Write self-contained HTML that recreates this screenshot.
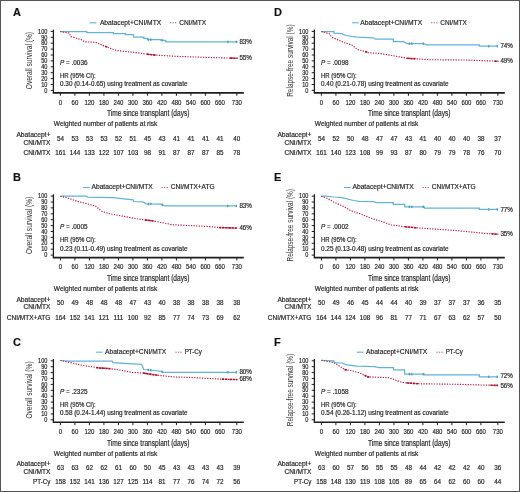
<!DOCTYPE html>
<html><head><meta charset="utf-8"><style>
html,body{margin:0;padding:0;background:#fff;width:520px;height:492px;overflow:hidden;}
svg{display:block;will-change:transform;font-family:"Liberation Sans", sans-serif;}
text{stroke:#2a2a2a;stroke-width:0.18px;}
</style></head><body>
<svg width="520" height="492" viewBox="0 0 520 492" font-family='"Liberation Sans", sans-serif'>
<rect x="0" y="0" width="520" height="492" fill="#fff"/>
<g transform="translate(0,0)">
<text x="13.00" y="16.20" font-size="11" font-weight="bold" fill="#111">A</text>
<line x1="89.6" y1="22.8" x2="96.39999999999999" y2="22.8" stroke="#64b2d6" stroke-width="1.1"/>
<text x="99.90" y="24.50" font-size="6.5" textLength="61.3" lengthAdjust="spacingAndGlyphs" fill="#222">Abatacept+CNI/MTX</text>
<line x1="170.0" y1="22.8" x2="176.8" y2="22.8" stroke="#b8203e" stroke-width="1.0" stroke-opacity="0.75" stroke-dasharray="1.3 1.2"/>
<text x="179.20" y="24.50" font-size="6.5" textLength="27.0" lengthAdjust="spacingAndGlyphs" fill="#222">CNI/MTX</text>
<line x1="53.4" y1="29.6" x2="53.4" y2="93.0" stroke="#1e1e1e" stroke-width="1.3"/>
<line x1="50.7" y1="90.40" x2="53.4" y2="90.40" stroke="#1e1e1e" stroke-width="1"/>
<text x="47.40" y="92.60" font-size="6.4" text-anchor="end" textLength="3.1" lengthAdjust="spacingAndGlyphs" fill="#222">0</text>
<line x1="50.7" y1="84.50" x2="53.4" y2="84.50" stroke="#1e1e1e" stroke-width="1"/>
<text x="47.40" y="86.70" font-size="6.4" text-anchor="end" textLength="6.2" lengthAdjust="spacingAndGlyphs" fill="#222">10</text>
<line x1="50.7" y1="78.60" x2="53.4" y2="78.60" stroke="#1e1e1e" stroke-width="1"/>
<text x="47.40" y="80.80" font-size="6.4" text-anchor="end" textLength="6.2" lengthAdjust="spacingAndGlyphs" fill="#222">20</text>
<line x1="50.7" y1="72.70" x2="53.4" y2="72.70" stroke="#1e1e1e" stroke-width="1"/>
<text x="47.40" y="74.90" font-size="6.4" text-anchor="end" textLength="6.2" lengthAdjust="spacingAndGlyphs" fill="#222">30</text>
<line x1="50.7" y1="66.80" x2="53.4" y2="66.80" stroke="#1e1e1e" stroke-width="1"/>
<text x="47.40" y="69.00" font-size="6.4" text-anchor="end" textLength="6.2" lengthAdjust="spacingAndGlyphs" fill="#222">40</text>
<line x1="50.7" y1="60.90" x2="53.4" y2="60.90" stroke="#1e1e1e" stroke-width="1"/>
<text x="47.40" y="63.10" font-size="6.4" text-anchor="end" textLength="6.2" lengthAdjust="spacingAndGlyphs" fill="#222">50</text>
<line x1="50.7" y1="55.00" x2="53.4" y2="55.00" stroke="#1e1e1e" stroke-width="1"/>
<text x="47.40" y="57.20" font-size="6.4" text-anchor="end" textLength="6.2" lengthAdjust="spacingAndGlyphs" fill="#222">60</text>
<line x1="50.7" y1="49.10" x2="53.4" y2="49.10" stroke="#1e1e1e" stroke-width="1"/>
<text x="47.40" y="51.30" font-size="6.4" text-anchor="end" textLength="6.2" lengthAdjust="spacingAndGlyphs" fill="#222">70</text>
<line x1="50.7" y1="43.20" x2="53.4" y2="43.20" stroke="#1e1e1e" stroke-width="1"/>
<text x="47.40" y="45.40" font-size="6.4" text-anchor="end" textLength="6.2" lengthAdjust="spacingAndGlyphs" fill="#222">80</text>
<line x1="50.7" y1="37.30" x2="53.4" y2="37.30" stroke="#1e1e1e" stroke-width="1"/>
<text x="47.40" y="39.50" font-size="6.4" text-anchor="end" textLength="6.2" lengthAdjust="spacingAndGlyphs" fill="#222">90</text>
<line x1="50.7" y1="31.40" x2="53.4" y2="31.40" stroke="#1e1e1e" stroke-width="1"/>
<text x="47.40" y="33.60" font-size="6.4" text-anchor="end" textLength="9.3" lengthAdjust="spacingAndGlyphs" fill="#222">100</text>
<line x1="52.8" y1="92.9" x2="243.8" y2="92.9" stroke="#1e1e1e" stroke-width="1.6"/>
<line x1="60.40" y1="92.9" x2="60.40" y2="95.8" stroke="#1e1e1e" stroke-width="1"/>
<text x="60.40" y="104.50" font-size="7.0" text-anchor="middle" textLength="3.35" lengthAdjust="spacingAndGlyphs" fill="#222">0</text>
<line x1="74.90" y1="92.9" x2="74.90" y2="95.8" stroke="#1e1e1e" stroke-width="1"/>
<text x="74.90" y="104.50" font-size="7.0" text-anchor="middle" textLength="6.7" lengthAdjust="spacingAndGlyphs" fill="#222">60</text>
<line x1="89.40" y1="92.9" x2="89.40" y2="95.8" stroke="#1e1e1e" stroke-width="1"/>
<text x="89.40" y="104.50" font-size="7.0" text-anchor="middle" textLength="10.05" lengthAdjust="spacingAndGlyphs" fill="#222">120</text>
<line x1="103.91" y1="92.9" x2="103.91" y2="95.8" stroke="#1e1e1e" stroke-width="1"/>
<text x="103.91" y="104.50" font-size="7.0" text-anchor="middle" textLength="10.05" lengthAdjust="spacingAndGlyphs" fill="#222">180</text>
<line x1="118.41" y1="92.9" x2="118.41" y2="95.8" stroke="#1e1e1e" stroke-width="1"/>
<text x="118.41" y="104.50" font-size="7.0" text-anchor="middle" textLength="10.05" lengthAdjust="spacingAndGlyphs" fill="#222">240</text>
<line x1="132.91" y1="92.9" x2="132.91" y2="95.8" stroke="#1e1e1e" stroke-width="1"/>
<text x="132.91" y="104.50" font-size="7.0" text-anchor="middle" textLength="10.05" lengthAdjust="spacingAndGlyphs" fill="#222">300</text>
<line x1="147.41" y1="92.9" x2="147.41" y2="95.8" stroke="#1e1e1e" stroke-width="1"/>
<text x="147.41" y="104.50" font-size="7.0" text-anchor="middle" textLength="10.05" lengthAdjust="spacingAndGlyphs" fill="#222">360</text>
<line x1="161.91" y1="92.9" x2="161.91" y2="95.8" stroke="#1e1e1e" stroke-width="1"/>
<text x="161.91" y="104.50" font-size="7.0" text-anchor="middle" textLength="10.05" lengthAdjust="spacingAndGlyphs" fill="#222">420</text>
<line x1="176.42" y1="92.9" x2="176.42" y2="95.8" stroke="#1e1e1e" stroke-width="1"/>
<text x="176.42" y="104.50" font-size="7.0" text-anchor="middle" textLength="10.05" lengthAdjust="spacingAndGlyphs" fill="#222">480</text>
<line x1="190.92" y1="92.9" x2="190.92" y2="95.8" stroke="#1e1e1e" stroke-width="1"/>
<text x="190.92" y="104.50" font-size="7.0" text-anchor="middle" textLength="10.05" lengthAdjust="spacingAndGlyphs" fill="#222">540</text>
<line x1="205.42" y1="92.9" x2="205.42" y2="95.8" stroke="#1e1e1e" stroke-width="1"/>
<text x="205.42" y="104.50" font-size="7.0" text-anchor="middle" textLength="10.05" lengthAdjust="spacingAndGlyphs" fill="#222">600</text>
<line x1="219.92" y1="92.9" x2="219.92" y2="95.8" stroke="#1e1e1e" stroke-width="1"/>
<text x="219.92" y="104.50" font-size="7.0" text-anchor="middle" textLength="10.05" lengthAdjust="spacingAndGlyphs" fill="#222">660</text>
<line x1="236.84" y1="92.9" x2="236.84" y2="95.8" stroke="#1e1e1e" stroke-width="1"/>
<text x="236.84" y="104.50" font-size="7.0" text-anchor="middle" textLength="10.05" lengthAdjust="spacingAndGlyphs" fill="#222">730</text>
<text x="106.90" y="116.20" font-size="8.5" textLength="82.6" lengthAdjust="spacingAndGlyphs" fill="#222">Time since transplant (days)</text>
<text x="0" y="0" font-size="9" textLength="57.2" lengthAdjust="spacingAndGlyphs" text-anchor="middle" fill="#333" style="stroke:none" transform="translate(31.9,60.6) rotate(-90)">Overall survival (%)</text>
<text x="60.0" y="64.8" font-size="6.3" fill="#222" textLength="27.5" lengthAdjust="spacingAndGlyphs"><tspan font-style="italic">P</tspan> = .0036</text>
<text x="60.00" y="77.60" font-size="6.3" textLength="35.6" lengthAdjust="spacingAndGlyphs" fill="#222">HR (95% CI):</text>
<text x="60.00" y="86.00" font-size="6.3" textLength="127.5" lengthAdjust="spacingAndGlyphs" fill="#222">0.30 (0.14-0.65) using treatment as covariate</text>
<polyline points="60.3,31.5 86.8,31.5 86.8,32.6 113.4,32.6 113.4,33.6 125.4,33.6 125.4,34.7 133.5,34.7 133.5,37.2 143.8,37.2 143.8,38.4 147.3,38.4 147.3,39.6 161.0,39.6 161.0,40.3 165.7,40.3 165.7,41.8 237.7,41.8" fill="none" stroke="#64b2d6" stroke-width="1.25"/>
<polyline points="60.3,31.5 66.0,32.6 69.5,33.2 70.7,36.6 81.0,39.5 84.5,41.8 96.0,42.4 104.0,45.9 110.0,48.2 116.8,50.5 125.0,51.5 138.0,52.8 149.6,54.5 155.4,55.1 175.0,56.3 206.6,57.4 237.7,58.3" fill="none" stroke="#b8203e" stroke-width="1.15" stroke-dasharray="1.3 1.3"/>
<rect x="147.70" y="38.40" width="1.4" height="2.4" fill="#4f9fbd"/>
<rect x="150.10" y="38.40" width="1.4" height="2.4" fill="#4f9fbd"/>
<rect x="161.60" y="39.10" width="1.4" height="2.4" fill="#4f9fbd"/>
<rect x="227.10" y="40.60" width="1.4" height="2.4" fill="#4f9fbd"/>
<rect x="235.60" y="40.60" width="1.4" height="2.4" fill="#4f9fbd"/>
<polyline points="105.0,46.3 107.5,47.2" fill="none" stroke="#b0122f" stroke-width="1.6" stroke-dasharray="2.4 0.7"/>
<polyline points="147.0,54.1 149.6,54.5 155.4,55.1 156.0,55.1" fill="none" stroke="#b0122f" stroke-width="1.6" stroke-dasharray="2.4 0.7"/>
<polyline points="230.0,58.1 237.5,58.3" fill="none" stroke="#b0122f" stroke-width="1.6" stroke-dasharray="2.4 0.7"/>
<text x="239.40" y="43.70" font-size="6.3" textLength="12.5" lengthAdjust="spacingAndGlyphs" fill="#222">83%</text>
<text x="239.40" y="60.00" font-size="6.3" textLength="12.5" lengthAdjust="spacingAndGlyphs" fill="#222">55%</text>
<text x="53.80" y="126.20" font-size="6.5" textLength="103.5" lengthAdjust="spacingAndGlyphs" fill="#222">Weighted number of patients at risk</text>
<text x="50.40" y="137.00" font-size="6.3" text-anchor="end" textLength="34.0" lengthAdjust="spacingAndGlyphs" fill="#222">Abatacept+</text>
<text x="50.40" y="144.60" font-size="6.3" text-anchor="end" textLength="27.0" lengthAdjust="spacingAndGlyphs" fill="#222">CNI/MTX</text>
<text x="60.40" y="140.70" font-size="6.3" text-anchor="middle" fill="#222">54</text>
<text x="74.90" y="140.70" font-size="6.3" text-anchor="middle" fill="#222">53</text>
<text x="89.40" y="140.70" font-size="6.3" text-anchor="middle" fill="#222">53</text>
<text x="103.91" y="140.70" font-size="6.3" text-anchor="middle" fill="#222">53</text>
<text x="118.41" y="140.70" font-size="6.3" text-anchor="middle" fill="#222">52</text>
<text x="132.91" y="140.70" font-size="6.3" text-anchor="middle" fill="#222">51</text>
<text x="147.41" y="140.70" font-size="6.3" text-anchor="middle" fill="#222">45</text>
<text x="161.91" y="140.70" font-size="6.3" text-anchor="middle" fill="#222">43</text>
<text x="176.42" y="140.70" font-size="6.3" text-anchor="middle" fill="#222">41</text>
<text x="190.92" y="140.70" font-size="6.3" text-anchor="middle" fill="#222">41</text>
<text x="205.42" y="140.70" font-size="6.3" text-anchor="middle" fill="#222">41</text>
<text x="219.92" y="140.70" font-size="6.3" text-anchor="middle" fill="#222">41</text>
<text x="236.84" y="140.70" font-size="6.3" text-anchor="middle" fill="#222">40</text>
<text x="50.40" y="155.00" font-size="6.3" text-anchor="end" textLength="27" lengthAdjust="spacingAndGlyphs" fill="#222">CNI/MTX</text>
<text x="60.40" y="155.00" font-size="6.3" text-anchor="middle" fill="#222">161</text>
<text x="74.90" y="155.00" font-size="6.3" text-anchor="middle" fill="#222">144</text>
<text x="89.40" y="155.00" font-size="6.3" text-anchor="middle" fill="#222">133</text>
<text x="103.91" y="155.00" font-size="6.3" text-anchor="middle" fill="#222">122</text>
<text x="118.41" y="155.00" font-size="6.3" text-anchor="middle" fill="#222">107</text>
<text x="132.91" y="155.00" font-size="6.3" text-anchor="middle" fill="#222">103</text>
<text x="147.41" y="155.00" font-size="6.3" text-anchor="middle" fill="#222">98</text>
<text x="161.91" y="155.00" font-size="6.3" text-anchor="middle" fill="#222">91</text>
<text x="176.42" y="155.00" font-size="6.3" text-anchor="middle" fill="#222">87</text>
<text x="190.92" y="155.00" font-size="6.3" text-anchor="middle" fill="#222">87</text>
<text x="205.42" y="155.00" font-size="6.3" text-anchor="middle" fill="#222">87</text>
<text x="219.92" y="155.00" font-size="6.3" text-anchor="middle" fill="#222">85</text>
<text x="236.84" y="155.00" font-size="6.3" text-anchor="middle" fill="#222">78</text>
</g>
<g transform="translate(0,164.7)">
<text x="13.00" y="16.20" font-size="11" font-weight="bold" fill="#111">B</text>
<line x1="83.0" y1="22.8" x2="89.8" y2="22.8" stroke="#64b2d6" stroke-width="1.1"/>
<text x="91.50" y="24.50" font-size="6.5" textLength="61.3" lengthAdjust="spacingAndGlyphs" fill="#222">Abatacept+CNI/MTX</text>
<line x1="161.5" y1="22.8" x2="168.3" y2="22.8" stroke="#b8203e" stroke-width="1.0" stroke-opacity="0.75" stroke-dasharray="1.3 1.2"/>
<text x="170.80" y="24.50" font-size="6.5" textLength="43.8" lengthAdjust="spacingAndGlyphs" fill="#222">CNI/MTX+ATG</text>
<line x1="53.4" y1="29.6" x2="53.4" y2="93.0" stroke="#1e1e1e" stroke-width="1.3"/>
<line x1="50.7" y1="90.40" x2="53.4" y2="90.40" stroke="#1e1e1e" stroke-width="1"/>
<text x="47.40" y="92.60" font-size="6.4" text-anchor="end" textLength="3.1" lengthAdjust="spacingAndGlyphs" fill="#222">0</text>
<line x1="50.7" y1="84.50" x2="53.4" y2="84.50" stroke="#1e1e1e" stroke-width="1"/>
<text x="47.40" y="86.70" font-size="6.4" text-anchor="end" textLength="6.2" lengthAdjust="spacingAndGlyphs" fill="#222">10</text>
<line x1="50.7" y1="78.60" x2="53.4" y2="78.60" stroke="#1e1e1e" stroke-width="1"/>
<text x="47.40" y="80.80" font-size="6.4" text-anchor="end" textLength="6.2" lengthAdjust="spacingAndGlyphs" fill="#222">20</text>
<line x1="50.7" y1="72.70" x2="53.4" y2="72.70" stroke="#1e1e1e" stroke-width="1"/>
<text x="47.40" y="74.90" font-size="6.4" text-anchor="end" textLength="6.2" lengthAdjust="spacingAndGlyphs" fill="#222">30</text>
<line x1="50.7" y1="66.80" x2="53.4" y2="66.80" stroke="#1e1e1e" stroke-width="1"/>
<text x="47.40" y="69.00" font-size="6.4" text-anchor="end" textLength="6.2" lengthAdjust="spacingAndGlyphs" fill="#222">40</text>
<line x1="50.7" y1="60.90" x2="53.4" y2="60.90" stroke="#1e1e1e" stroke-width="1"/>
<text x="47.40" y="63.10" font-size="6.4" text-anchor="end" textLength="6.2" lengthAdjust="spacingAndGlyphs" fill="#222">50</text>
<line x1="50.7" y1="55.00" x2="53.4" y2="55.00" stroke="#1e1e1e" stroke-width="1"/>
<text x="47.40" y="57.20" font-size="6.4" text-anchor="end" textLength="6.2" lengthAdjust="spacingAndGlyphs" fill="#222">60</text>
<line x1="50.7" y1="49.10" x2="53.4" y2="49.10" stroke="#1e1e1e" stroke-width="1"/>
<text x="47.40" y="51.30" font-size="6.4" text-anchor="end" textLength="6.2" lengthAdjust="spacingAndGlyphs" fill="#222">70</text>
<line x1="50.7" y1="43.20" x2="53.4" y2="43.20" stroke="#1e1e1e" stroke-width="1"/>
<text x="47.40" y="45.40" font-size="6.4" text-anchor="end" textLength="6.2" lengthAdjust="spacingAndGlyphs" fill="#222">80</text>
<line x1="50.7" y1="37.30" x2="53.4" y2="37.30" stroke="#1e1e1e" stroke-width="1"/>
<text x="47.40" y="39.50" font-size="6.4" text-anchor="end" textLength="6.2" lengthAdjust="spacingAndGlyphs" fill="#222">90</text>
<line x1="50.7" y1="31.40" x2="53.4" y2="31.40" stroke="#1e1e1e" stroke-width="1"/>
<text x="47.40" y="33.60" font-size="6.4" text-anchor="end" textLength="9.3" lengthAdjust="spacingAndGlyphs" fill="#222">100</text>
<line x1="52.8" y1="92.9" x2="243.8" y2="92.9" stroke="#1e1e1e" stroke-width="1.6"/>
<line x1="60.40" y1="92.9" x2="60.40" y2="95.8" stroke="#1e1e1e" stroke-width="1"/>
<text x="60.40" y="104.50" font-size="7.0" text-anchor="middle" textLength="3.35" lengthAdjust="spacingAndGlyphs" fill="#222">0</text>
<line x1="74.90" y1="92.9" x2="74.90" y2="95.8" stroke="#1e1e1e" stroke-width="1"/>
<text x="74.90" y="104.50" font-size="7.0" text-anchor="middle" textLength="6.7" lengthAdjust="spacingAndGlyphs" fill="#222">60</text>
<line x1="89.40" y1="92.9" x2="89.40" y2="95.8" stroke="#1e1e1e" stroke-width="1"/>
<text x="89.40" y="104.50" font-size="7.0" text-anchor="middle" textLength="10.05" lengthAdjust="spacingAndGlyphs" fill="#222">120</text>
<line x1="103.91" y1="92.9" x2="103.91" y2="95.8" stroke="#1e1e1e" stroke-width="1"/>
<text x="103.91" y="104.50" font-size="7.0" text-anchor="middle" textLength="10.05" lengthAdjust="spacingAndGlyphs" fill="#222">180</text>
<line x1="118.41" y1="92.9" x2="118.41" y2="95.8" stroke="#1e1e1e" stroke-width="1"/>
<text x="118.41" y="104.50" font-size="7.0" text-anchor="middle" textLength="10.05" lengthAdjust="spacingAndGlyphs" fill="#222">240</text>
<line x1="132.91" y1="92.9" x2="132.91" y2="95.8" stroke="#1e1e1e" stroke-width="1"/>
<text x="132.91" y="104.50" font-size="7.0" text-anchor="middle" textLength="10.05" lengthAdjust="spacingAndGlyphs" fill="#222">300</text>
<line x1="147.41" y1="92.9" x2="147.41" y2="95.8" stroke="#1e1e1e" stroke-width="1"/>
<text x="147.41" y="104.50" font-size="7.0" text-anchor="middle" textLength="10.05" lengthAdjust="spacingAndGlyphs" fill="#222">360</text>
<line x1="161.91" y1="92.9" x2="161.91" y2="95.8" stroke="#1e1e1e" stroke-width="1"/>
<text x="161.91" y="104.50" font-size="7.0" text-anchor="middle" textLength="10.05" lengthAdjust="spacingAndGlyphs" fill="#222">420</text>
<line x1="176.42" y1="92.9" x2="176.42" y2="95.8" stroke="#1e1e1e" stroke-width="1"/>
<text x="176.42" y="104.50" font-size="7.0" text-anchor="middle" textLength="10.05" lengthAdjust="spacingAndGlyphs" fill="#222">480</text>
<line x1="190.92" y1="92.9" x2="190.92" y2="95.8" stroke="#1e1e1e" stroke-width="1"/>
<text x="190.92" y="104.50" font-size="7.0" text-anchor="middle" textLength="10.05" lengthAdjust="spacingAndGlyphs" fill="#222">540</text>
<line x1="205.42" y1="92.9" x2="205.42" y2="95.8" stroke="#1e1e1e" stroke-width="1"/>
<text x="205.42" y="104.50" font-size="7.0" text-anchor="middle" textLength="10.05" lengthAdjust="spacingAndGlyphs" fill="#222">600</text>
<line x1="219.92" y1="92.9" x2="219.92" y2="95.8" stroke="#1e1e1e" stroke-width="1"/>
<text x="219.92" y="104.50" font-size="7.0" text-anchor="middle" textLength="10.05" lengthAdjust="spacingAndGlyphs" fill="#222">660</text>
<line x1="236.84" y1="92.9" x2="236.84" y2="95.8" stroke="#1e1e1e" stroke-width="1"/>
<text x="236.84" y="104.50" font-size="7.0" text-anchor="middle" textLength="10.05" lengthAdjust="spacingAndGlyphs" fill="#222">730</text>
<text x="106.90" y="116.20" font-size="8.5" textLength="82.6" lengthAdjust="spacingAndGlyphs" fill="#222">Time since transplant (days)</text>
<text x="0" y="0" font-size="9" textLength="57.2" lengthAdjust="spacingAndGlyphs" text-anchor="middle" fill="#333" style="stroke:none" transform="translate(31.9,60.6) rotate(-90)">Overall survival (%)</text>
<text x="60.0" y="64.8" font-size="6.3" fill="#222" textLength="27.5" lengthAdjust="spacingAndGlyphs"><tspan font-style="italic">P</tspan> = .0005</text>
<text x="60.00" y="77.60" font-size="6.3" textLength="35.6" lengthAdjust="spacingAndGlyphs" fill="#222">HR (95% CI):</text>
<text x="60.00" y="86.00" font-size="6.3" textLength="127.5" lengthAdjust="spacingAndGlyphs" fill="#222">0.23 (0.11-0.49) using treatment as covariate</text>
<polyline points="60.3,31.5 86.8,31.5 87.7,32.5 113.1,32.9 126.2,34.5 133.1,35.2 133.8,36.8 143.1,37.2 146.2,39.1 161.1,39.5 164.6,41.2 236.9,41.2" fill="none" stroke="#64b2d6" stroke-width="1.25"/>
<polyline points="60.3,31.5 68.4,33.5 76.5,36.4 88.0,39.3 95.4,41.4 101.8,46.5 108.7,48.8 118.0,50.6 126.2,52.1 138.0,54.3 144.6,55.2 154.2,56.4 160.0,57.5 172.0,60.0 211.8,62.0 220.4,62.9 237.7,63.4" fill="none" stroke="#b8203e" stroke-width="1.15" stroke-dasharray="1.3 1.3"/>
<rect x="147.70" y="37.96" width="1.4" height="2.4" fill="#4f9fbd"/>
<rect x="150.10" y="38.02" width="1.4" height="2.4" fill="#4f9fbd"/>
<rect x="161.60" y="38.88" width="1.4" height="2.4" fill="#4f9fbd"/>
<rect x="227.10" y="40.00" width="1.4" height="2.4" fill="#4f9fbd"/>
<rect x="235.60" y="40.00" width="1.4" height="2.4" fill="#4f9fbd"/>
<polyline points="145.0,55.2 154.2,56.4 154.5,56.5" fill="none" stroke="#b0122f" stroke-width="1.6" stroke-dasharray="2.4 0.7"/>
<polyline points="219.0,62.8 220.4,62.9 237.0,63.4" fill="none" stroke="#b0122f" stroke-width="1.6" stroke-dasharray="2.4 0.7"/>
<text x="239.40" y="43.10" font-size="6.3" textLength="12.5" lengthAdjust="spacingAndGlyphs" fill="#222">83%</text>
<text x="239.40" y="65.10" font-size="6.3" textLength="12.5" lengthAdjust="spacingAndGlyphs" fill="#222">46%</text>
<text x="53.80" y="126.20" font-size="6.5" textLength="103.5" lengthAdjust="spacingAndGlyphs" fill="#222">Weighted number of patients at risk</text>
<text x="50.40" y="137.00" font-size="6.3" text-anchor="end" textLength="34.0" lengthAdjust="spacingAndGlyphs" fill="#222">Abatacept+</text>
<text x="50.40" y="144.60" font-size="6.3" text-anchor="end" textLength="27.0" lengthAdjust="spacingAndGlyphs" fill="#222">CNI/MTX</text>
<text x="60.40" y="140.70" font-size="6.3" text-anchor="middle" fill="#222">50</text>
<text x="74.90" y="140.70" font-size="6.3" text-anchor="middle" fill="#222">49</text>
<text x="89.40" y="140.70" font-size="6.3" text-anchor="middle" fill="#222">48</text>
<text x="103.91" y="140.70" font-size="6.3" text-anchor="middle" fill="#222">48</text>
<text x="118.41" y="140.70" font-size="6.3" text-anchor="middle" fill="#222">48</text>
<text x="132.91" y="140.70" font-size="6.3" text-anchor="middle" fill="#222">47</text>
<text x="147.41" y="140.70" font-size="6.3" text-anchor="middle" fill="#222">43</text>
<text x="161.91" y="140.70" font-size="6.3" text-anchor="middle" fill="#222">40</text>
<text x="176.42" y="140.70" font-size="6.3" text-anchor="middle" fill="#222">38</text>
<text x="190.92" y="140.70" font-size="6.3" text-anchor="middle" fill="#222">38</text>
<text x="205.42" y="140.70" font-size="6.3" text-anchor="middle" fill="#222">38</text>
<text x="219.92" y="140.70" font-size="6.3" text-anchor="middle" fill="#222">38</text>
<text x="236.84" y="140.70" font-size="6.3" text-anchor="middle" fill="#222">38</text>
<text x="50.40" y="155.00" font-size="6.3" text-anchor="end" textLength="43.7" lengthAdjust="spacingAndGlyphs" fill="#222">CNI/MTX+ATG</text>
<text x="60.40" y="155.00" font-size="6.3" text-anchor="middle" fill="#222">164</text>
<text x="74.90" y="155.00" font-size="6.3" text-anchor="middle" fill="#222">152</text>
<text x="89.40" y="155.00" font-size="6.3" text-anchor="middle" fill="#222">141</text>
<text x="103.91" y="155.00" font-size="6.3" text-anchor="middle" fill="#222">121</text>
<text x="118.41" y="155.00" font-size="6.3" text-anchor="middle" fill="#222">111</text>
<text x="132.91" y="155.00" font-size="6.3" text-anchor="middle" fill="#222">100</text>
<text x="147.41" y="155.00" font-size="6.3" text-anchor="middle" fill="#222">92</text>
<text x="161.91" y="155.00" font-size="6.3" text-anchor="middle" fill="#222">85</text>
<text x="176.42" y="155.00" font-size="6.3" text-anchor="middle" fill="#222">77</text>
<text x="190.92" y="155.00" font-size="6.3" text-anchor="middle" fill="#222">74</text>
<text x="205.42" y="155.00" font-size="6.3" text-anchor="middle" fill="#222">73</text>
<text x="219.92" y="155.00" font-size="6.3" text-anchor="middle" fill="#222">69</text>
<text x="236.84" y="155.00" font-size="6.3" text-anchor="middle" fill="#222">62</text>
</g>
<g transform="translate(0,329.4)">
<text x="13.00" y="16.20" font-size="11" font-weight="bold" fill="#111">C</text>
<line x1="95.8" y1="22.8" x2="102.6" y2="22.8" stroke="#64b2d6" stroke-width="1.1"/>
<text x="105.00" y="24.50" font-size="6.5" textLength="61.2" lengthAdjust="spacingAndGlyphs" fill="#222">Abatacept+CNI/MTX</text>
<line x1="175.4" y1="22.8" x2="182.20000000000002" y2="22.8" stroke="#b8203e" stroke-width="1.0" stroke-opacity="0.75" stroke-dasharray="1.3 1.2"/>
<text x="184.70" y="24.50" font-size="6.5" textLength="17.3" lengthAdjust="spacingAndGlyphs" fill="#222">PT-Cy</text>
<line x1="53.4" y1="29.6" x2="53.4" y2="93.0" stroke="#1e1e1e" stroke-width="1.3"/>
<line x1="50.7" y1="90.40" x2="53.4" y2="90.40" stroke="#1e1e1e" stroke-width="1"/>
<text x="47.40" y="92.60" font-size="6.4" text-anchor="end" textLength="3.1" lengthAdjust="spacingAndGlyphs" fill="#222">0</text>
<line x1="50.7" y1="84.50" x2="53.4" y2="84.50" stroke="#1e1e1e" stroke-width="1"/>
<text x="47.40" y="86.70" font-size="6.4" text-anchor="end" textLength="6.2" lengthAdjust="spacingAndGlyphs" fill="#222">10</text>
<line x1="50.7" y1="78.60" x2="53.4" y2="78.60" stroke="#1e1e1e" stroke-width="1"/>
<text x="47.40" y="80.80" font-size="6.4" text-anchor="end" textLength="6.2" lengthAdjust="spacingAndGlyphs" fill="#222">20</text>
<line x1="50.7" y1="72.70" x2="53.4" y2="72.70" stroke="#1e1e1e" stroke-width="1"/>
<text x="47.40" y="74.90" font-size="6.4" text-anchor="end" textLength="6.2" lengthAdjust="spacingAndGlyphs" fill="#222">30</text>
<line x1="50.7" y1="66.80" x2="53.4" y2="66.80" stroke="#1e1e1e" stroke-width="1"/>
<text x="47.40" y="69.00" font-size="6.4" text-anchor="end" textLength="6.2" lengthAdjust="spacingAndGlyphs" fill="#222">40</text>
<line x1="50.7" y1="60.90" x2="53.4" y2="60.90" stroke="#1e1e1e" stroke-width="1"/>
<text x="47.40" y="63.10" font-size="6.4" text-anchor="end" textLength="6.2" lengthAdjust="spacingAndGlyphs" fill="#222">50</text>
<line x1="50.7" y1="55.00" x2="53.4" y2="55.00" stroke="#1e1e1e" stroke-width="1"/>
<text x="47.40" y="57.20" font-size="6.4" text-anchor="end" textLength="6.2" lengthAdjust="spacingAndGlyphs" fill="#222">60</text>
<line x1="50.7" y1="49.10" x2="53.4" y2="49.10" stroke="#1e1e1e" stroke-width="1"/>
<text x="47.40" y="51.30" font-size="6.4" text-anchor="end" textLength="6.2" lengthAdjust="spacingAndGlyphs" fill="#222">70</text>
<line x1="50.7" y1="43.20" x2="53.4" y2="43.20" stroke="#1e1e1e" stroke-width="1"/>
<text x="47.40" y="45.40" font-size="6.4" text-anchor="end" textLength="6.2" lengthAdjust="spacingAndGlyphs" fill="#222">80</text>
<line x1="50.7" y1="37.30" x2="53.4" y2="37.30" stroke="#1e1e1e" stroke-width="1"/>
<text x="47.40" y="39.50" font-size="6.4" text-anchor="end" textLength="6.2" lengthAdjust="spacingAndGlyphs" fill="#222">90</text>
<line x1="50.7" y1="31.40" x2="53.4" y2="31.40" stroke="#1e1e1e" stroke-width="1"/>
<text x="47.40" y="33.60" font-size="6.4" text-anchor="end" textLength="9.3" lengthAdjust="spacingAndGlyphs" fill="#222">100</text>
<line x1="52.8" y1="92.9" x2="243.8" y2="92.9" stroke="#1e1e1e" stroke-width="1.6"/>
<line x1="60.40" y1="92.9" x2="60.40" y2="95.8" stroke="#1e1e1e" stroke-width="1"/>
<text x="60.40" y="104.50" font-size="7.0" text-anchor="middle" textLength="3.35" lengthAdjust="spacingAndGlyphs" fill="#222">0</text>
<line x1="74.90" y1="92.9" x2="74.90" y2="95.8" stroke="#1e1e1e" stroke-width="1"/>
<text x="74.90" y="104.50" font-size="7.0" text-anchor="middle" textLength="6.7" lengthAdjust="spacingAndGlyphs" fill="#222">60</text>
<line x1="89.40" y1="92.9" x2="89.40" y2="95.8" stroke="#1e1e1e" stroke-width="1"/>
<text x="89.40" y="104.50" font-size="7.0" text-anchor="middle" textLength="10.05" lengthAdjust="spacingAndGlyphs" fill="#222">120</text>
<line x1="103.91" y1="92.9" x2="103.91" y2="95.8" stroke="#1e1e1e" stroke-width="1"/>
<text x="103.91" y="104.50" font-size="7.0" text-anchor="middle" textLength="10.05" lengthAdjust="spacingAndGlyphs" fill="#222">180</text>
<line x1="118.41" y1="92.9" x2="118.41" y2="95.8" stroke="#1e1e1e" stroke-width="1"/>
<text x="118.41" y="104.50" font-size="7.0" text-anchor="middle" textLength="10.05" lengthAdjust="spacingAndGlyphs" fill="#222">240</text>
<line x1="132.91" y1="92.9" x2="132.91" y2="95.8" stroke="#1e1e1e" stroke-width="1"/>
<text x="132.91" y="104.50" font-size="7.0" text-anchor="middle" textLength="10.05" lengthAdjust="spacingAndGlyphs" fill="#222">300</text>
<line x1="147.41" y1="92.9" x2="147.41" y2="95.8" stroke="#1e1e1e" stroke-width="1"/>
<text x="147.41" y="104.50" font-size="7.0" text-anchor="middle" textLength="10.05" lengthAdjust="spacingAndGlyphs" fill="#222">360</text>
<line x1="161.91" y1="92.9" x2="161.91" y2="95.8" stroke="#1e1e1e" stroke-width="1"/>
<text x="161.91" y="104.50" font-size="7.0" text-anchor="middle" textLength="10.05" lengthAdjust="spacingAndGlyphs" fill="#222">420</text>
<line x1="176.42" y1="92.9" x2="176.42" y2="95.8" stroke="#1e1e1e" stroke-width="1"/>
<text x="176.42" y="104.50" font-size="7.0" text-anchor="middle" textLength="10.05" lengthAdjust="spacingAndGlyphs" fill="#222">480</text>
<line x1="190.92" y1="92.9" x2="190.92" y2="95.8" stroke="#1e1e1e" stroke-width="1"/>
<text x="190.92" y="104.50" font-size="7.0" text-anchor="middle" textLength="10.05" lengthAdjust="spacingAndGlyphs" fill="#222">540</text>
<line x1="205.42" y1="92.9" x2="205.42" y2="95.8" stroke="#1e1e1e" stroke-width="1"/>
<text x="205.42" y="104.50" font-size="7.0" text-anchor="middle" textLength="10.05" lengthAdjust="spacingAndGlyphs" fill="#222">600</text>
<line x1="219.92" y1="92.9" x2="219.92" y2="95.8" stroke="#1e1e1e" stroke-width="1"/>
<text x="219.92" y="104.50" font-size="7.0" text-anchor="middle" textLength="10.05" lengthAdjust="spacingAndGlyphs" fill="#222">660</text>
<line x1="236.84" y1="92.9" x2="236.84" y2="95.8" stroke="#1e1e1e" stroke-width="1"/>
<text x="236.84" y="104.50" font-size="7.0" text-anchor="middle" textLength="10.05" lengthAdjust="spacingAndGlyphs" fill="#222">730</text>
<text x="106.90" y="116.20" font-size="8.5" textLength="82.6" lengthAdjust="spacingAndGlyphs" fill="#222">Time since transplant (days)</text>
<text x="0" y="0" font-size="9" textLength="57.2" lengthAdjust="spacingAndGlyphs" text-anchor="middle" fill="#333" style="stroke:none" transform="translate(31.9,60.6) rotate(-90)">Overall survival (%)</text>
<text x="60.0" y="64.8" font-size="6.3" fill="#222" textLength="27.5" lengthAdjust="spacingAndGlyphs"><tspan font-style="italic">P</tspan> = .2325</text>
<text x="60.00" y="77.60" font-size="6.3" textLength="35.6" lengthAdjust="spacingAndGlyphs" fill="#222">HR (95% CI):</text>
<text x="60.00" y="86.00" font-size="6.3" textLength="127.5" lengthAdjust="spacingAndGlyphs" fill="#222">0.58 (0.24-1.44) using treatment as covariate</text>
<polyline points="60.3,31.1 70.0,31.8 112.2,31.8 113.0,33.2 132.3,34.4 141.5,34.9 142.7,37.3 143.8,40.1 154.2,41.1 161.1,41.9 163.4,42.9 237.0,42.9" fill="none" stroke="#64b2d6" stroke-width="1.25"/>
<polyline points="60.3,31.1 69.5,33.0 77.6,34.9 84.5,36.4 93.8,37.6 97.2,38.4 108.7,39.2 116.8,40.1 132.3,43.0 142.7,43.6 149.6,44.7 157.7,45.9 175.0,47.6 189.3,48.0 220.4,49.7 237.7,50.2" fill="none" stroke="#b8203e" stroke-width="1.15" stroke-dasharray="1.3 1.3"/>
<rect x="147.70" y="39.34" width="1.4" height="2.4" fill="#4f9fbd"/>
<rect x="150.10" y="39.57" width="1.4" height="2.4" fill="#4f9fbd"/>
<rect x="161.60" y="41.22" width="1.4" height="2.4" fill="#4f9fbd"/>
<rect x="227.10" y="41.70" width="1.4" height="2.4" fill="#4f9fbd"/>
<rect x="235.60" y="41.70" width="1.4" height="2.4" fill="#4f9fbd"/>
<polyline points="96.0,38.1 97.2,38.4 108.7,39.2 110.5,39.4" fill="none" stroke="#b0122f" stroke-width="1.6" stroke-dasharray="2.4 0.7"/>
<polyline points="143.0,43.6 149.6,44.7 157.5,45.9" fill="none" stroke="#b0122f" stroke-width="1.6" stroke-dasharray="2.4 0.7"/>
<polyline points="222.0,49.7 228.0,49.9" fill="none" stroke="#b0122f" stroke-width="1.6" stroke-dasharray="2.4 0.7"/>
<polyline points="229.5,50.0 237.5,50.2" fill="none" stroke="#b0122f" stroke-width="1.6" stroke-dasharray="2.4 0.7"/>
<text x="239.40" y="44.30" font-size="6.3" textLength="12.5" lengthAdjust="spacingAndGlyphs" fill="#222">80%</text>
<text x="239.40" y="51.90" font-size="6.3" textLength="12.5" lengthAdjust="spacingAndGlyphs" fill="#222">68%</text>
<text x="53.80" y="126.20" font-size="6.5" textLength="103.5" lengthAdjust="spacingAndGlyphs" fill="#222">Weighted number of patients at risk</text>
<text x="50.40" y="137.00" font-size="6.3" text-anchor="end" textLength="34.0" lengthAdjust="spacingAndGlyphs" fill="#222">Abatacept+</text>
<text x="50.40" y="144.60" font-size="6.3" text-anchor="end" textLength="27.0" lengthAdjust="spacingAndGlyphs" fill="#222">CNI/MTX</text>
<text x="60.40" y="140.70" font-size="6.3" text-anchor="middle" fill="#222">63</text>
<text x="74.90" y="140.70" font-size="6.3" text-anchor="middle" fill="#222">63</text>
<text x="89.40" y="140.70" font-size="6.3" text-anchor="middle" fill="#222">62</text>
<text x="103.91" y="140.70" font-size="6.3" text-anchor="middle" fill="#222">62</text>
<text x="118.41" y="140.70" font-size="6.3" text-anchor="middle" fill="#222">61</text>
<text x="132.91" y="140.70" font-size="6.3" text-anchor="middle" fill="#222">60</text>
<text x="147.41" y="140.70" font-size="6.3" text-anchor="middle" fill="#222">50</text>
<text x="161.91" y="140.70" font-size="6.3" text-anchor="middle" fill="#222">45</text>
<text x="176.42" y="140.70" font-size="6.3" text-anchor="middle" fill="#222">43</text>
<text x="190.92" y="140.70" font-size="6.3" text-anchor="middle" fill="#222">43</text>
<text x="205.42" y="140.70" font-size="6.3" text-anchor="middle" fill="#222">43</text>
<text x="219.92" y="140.70" font-size="6.3" text-anchor="middle" fill="#222">43</text>
<text x="236.84" y="140.70" font-size="6.3" text-anchor="middle" fill="#222">39</text>
<text x="50.40" y="155.00" font-size="6.3" text-anchor="end" textLength="17.3" lengthAdjust="spacingAndGlyphs" fill="#222">PT-Cy</text>
<text x="60.40" y="155.00" font-size="6.3" text-anchor="middle" fill="#222">158</text>
<text x="74.90" y="155.00" font-size="6.3" text-anchor="middle" fill="#222">152</text>
<text x="89.40" y="155.00" font-size="6.3" text-anchor="middle" fill="#222">141</text>
<text x="103.91" y="155.00" font-size="6.3" text-anchor="middle" fill="#222">136</text>
<text x="118.41" y="155.00" font-size="6.3" text-anchor="middle" fill="#222">127</text>
<text x="132.91" y="155.00" font-size="6.3" text-anchor="middle" fill="#222">125</text>
<text x="147.41" y="155.00" font-size="6.3" text-anchor="middle" fill="#222">114</text>
<text x="161.91" y="155.00" font-size="6.3" text-anchor="middle" fill="#222">81</text>
<text x="176.42" y="155.00" font-size="6.3" text-anchor="middle" fill="#222">77</text>
<text x="190.92" y="155.00" font-size="6.3" text-anchor="middle" fill="#222">76</text>
<text x="205.42" y="155.00" font-size="6.3" text-anchor="middle" fill="#222">74</text>
<text x="219.92" y="155.00" font-size="6.3" text-anchor="middle" fill="#222">72</text>
<text x="236.84" y="155.00" font-size="6.3" text-anchor="middle" fill="#222">56</text>
</g>
<g transform="translate(261,0)">
<text x="13.00" y="16.20" font-size="11" font-weight="bold" fill="#111">D</text>
<line x1="91.1" y1="22.8" x2="97.89999999999999" y2="22.8" stroke="#64b2d6" stroke-width="1.1"/>
<text x="99.20" y="24.50" font-size="6.5" textLength="62.0" lengthAdjust="spacingAndGlyphs" fill="#222">Abatacept+CNI/MTX</text>
<line x1="170.1" y1="22.8" x2="176.9" y2="22.8" stroke="#b8203e" stroke-width="1.0" stroke-opacity="0.75" stroke-dasharray="1.3 1.2"/>
<text x="179.30" y="24.50" font-size="6.5" textLength="26.4" lengthAdjust="spacingAndGlyphs" fill="#222">CNI/MTX</text>
<line x1="53.4" y1="29.6" x2="53.4" y2="93.0" stroke="#1e1e1e" stroke-width="1.3"/>
<line x1="50.7" y1="90.40" x2="53.4" y2="90.40" stroke="#1e1e1e" stroke-width="1"/>
<text x="47.40" y="92.60" font-size="6.4" text-anchor="end" textLength="3.1" lengthAdjust="spacingAndGlyphs" fill="#222">0</text>
<line x1="50.7" y1="84.50" x2="53.4" y2="84.50" stroke="#1e1e1e" stroke-width="1"/>
<text x="47.40" y="86.70" font-size="6.4" text-anchor="end" textLength="6.2" lengthAdjust="spacingAndGlyphs" fill="#222">10</text>
<line x1="50.7" y1="78.60" x2="53.4" y2="78.60" stroke="#1e1e1e" stroke-width="1"/>
<text x="47.40" y="80.80" font-size="6.4" text-anchor="end" textLength="6.2" lengthAdjust="spacingAndGlyphs" fill="#222">20</text>
<line x1="50.7" y1="72.70" x2="53.4" y2="72.70" stroke="#1e1e1e" stroke-width="1"/>
<text x="47.40" y="74.90" font-size="6.4" text-anchor="end" textLength="6.2" lengthAdjust="spacingAndGlyphs" fill="#222">30</text>
<line x1="50.7" y1="66.80" x2="53.4" y2="66.80" stroke="#1e1e1e" stroke-width="1"/>
<text x="47.40" y="69.00" font-size="6.4" text-anchor="end" textLength="6.2" lengthAdjust="spacingAndGlyphs" fill="#222">40</text>
<line x1="50.7" y1="60.90" x2="53.4" y2="60.90" stroke="#1e1e1e" stroke-width="1"/>
<text x="47.40" y="63.10" font-size="6.4" text-anchor="end" textLength="6.2" lengthAdjust="spacingAndGlyphs" fill="#222">50</text>
<line x1="50.7" y1="55.00" x2="53.4" y2="55.00" stroke="#1e1e1e" stroke-width="1"/>
<text x="47.40" y="57.20" font-size="6.4" text-anchor="end" textLength="6.2" lengthAdjust="spacingAndGlyphs" fill="#222">60</text>
<line x1="50.7" y1="49.10" x2="53.4" y2="49.10" stroke="#1e1e1e" stroke-width="1"/>
<text x="47.40" y="51.30" font-size="6.4" text-anchor="end" textLength="6.2" lengthAdjust="spacingAndGlyphs" fill="#222">70</text>
<line x1="50.7" y1="43.20" x2="53.4" y2="43.20" stroke="#1e1e1e" stroke-width="1"/>
<text x="47.40" y="45.40" font-size="6.4" text-anchor="end" textLength="6.2" lengthAdjust="spacingAndGlyphs" fill="#222">80</text>
<line x1="50.7" y1="37.30" x2="53.4" y2="37.30" stroke="#1e1e1e" stroke-width="1"/>
<text x="47.40" y="39.50" font-size="6.4" text-anchor="end" textLength="6.2" lengthAdjust="spacingAndGlyphs" fill="#222">90</text>
<line x1="50.7" y1="31.40" x2="53.4" y2="31.40" stroke="#1e1e1e" stroke-width="1"/>
<text x="47.40" y="33.60" font-size="6.4" text-anchor="end" textLength="9.3" lengthAdjust="spacingAndGlyphs" fill="#222">100</text>
<line x1="52.8" y1="92.9" x2="243.8" y2="92.9" stroke="#1e1e1e" stroke-width="1.6"/>
<line x1="60.40" y1="92.9" x2="60.40" y2="95.8" stroke="#1e1e1e" stroke-width="1"/>
<text x="60.40" y="104.50" font-size="7.0" text-anchor="middle" textLength="3.35" lengthAdjust="spacingAndGlyphs" fill="#222">0</text>
<line x1="74.90" y1="92.9" x2="74.90" y2="95.8" stroke="#1e1e1e" stroke-width="1"/>
<text x="74.90" y="104.50" font-size="7.0" text-anchor="middle" textLength="6.7" lengthAdjust="spacingAndGlyphs" fill="#222">60</text>
<line x1="89.40" y1="92.9" x2="89.40" y2="95.8" stroke="#1e1e1e" stroke-width="1"/>
<text x="89.40" y="104.50" font-size="7.0" text-anchor="middle" textLength="10.05" lengthAdjust="spacingAndGlyphs" fill="#222">120</text>
<line x1="103.91" y1="92.9" x2="103.91" y2="95.8" stroke="#1e1e1e" stroke-width="1"/>
<text x="103.91" y="104.50" font-size="7.0" text-anchor="middle" textLength="10.05" lengthAdjust="spacingAndGlyphs" fill="#222">180</text>
<line x1="118.41" y1="92.9" x2="118.41" y2="95.8" stroke="#1e1e1e" stroke-width="1"/>
<text x="118.41" y="104.50" font-size="7.0" text-anchor="middle" textLength="10.05" lengthAdjust="spacingAndGlyphs" fill="#222">240</text>
<line x1="132.91" y1="92.9" x2="132.91" y2="95.8" stroke="#1e1e1e" stroke-width="1"/>
<text x="132.91" y="104.50" font-size="7.0" text-anchor="middle" textLength="10.05" lengthAdjust="spacingAndGlyphs" fill="#222">300</text>
<line x1="147.41" y1="92.9" x2="147.41" y2="95.8" stroke="#1e1e1e" stroke-width="1"/>
<text x="147.41" y="104.50" font-size="7.0" text-anchor="middle" textLength="10.05" lengthAdjust="spacingAndGlyphs" fill="#222">360</text>
<line x1="161.91" y1="92.9" x2="161.91" y2="95.8" stroke="#1e1e1e" stroke-width="1"/>
<text x="161.91" y="104.50" font-size="7.0" text-anchor="middle" textLength="10.05" lengthAdjust="spacingAndGlyphs" fill="#222">420</text>
<line x1="176.42" y1="92.9" x2="176.42" y2="95.8" stroke="#1e1e1e" stroke-width="1"/>
<text x="176.42" y="104.50" font-size="7.0" text-anchor="middle" textLength="10.05" lengthAdjust="spacingAndGlyphs" fill="#222">480</text>
<line x1="190.92" y1="92.9" x2="190.92" y2="95.8" stroke="#1e1e1e" stroke-width="1"/>
<text x="190.92" y="104.50" font-size="7.0" text-anchor="middle" textLength="10.05" lengthAdjust="spacingAndGlyphs" fill="#222">540</text>
<line x1="205.42" y1="92.9" x2="205.42" y2="95.8" stroke="#1e1e1e" stroke-width="1"/>
<text x="205.42" y="104.50" font-size="7.0" text-anchor="middle" textLength="10.05" lengthAdjust="spacingAndGlyphs" fill="#222">600</text>
<line x1="219.92" y1="92.9" x2="219.92" y2="95.8" stroke="#1e1e1e" stroke-width="1"/>
<text x="219.92" y="104.50" font-size="7.0" text-anchor="middle" textLength="10.05" lengthAdjust="spacingAndGlyphs" fill="#222">660</text>
<line x1="236.84" y1="92.9" x2="236.84" y2="95.8" stroke="#1e1e1e" stroke-width="1"/>
<text x="236.84" y="104.50" font-size="7.0" text-anchor="middle" textLength="10.05" lengthAdjust="spacingAndGlyphs" fill="#222">730</text>
<text x="106.90" y="116.20" font-size="8.5" textLength="82.6" lengthAdjust="spacingAndGlyphs" fill="#222">Time since transplant (days)</text>
<text x="0" y="0" font-size="9" textLength="72.4" lengthAdjust="spacingAndGlyphs" text-anchor="middle" fill="#333" style="stroke:none" transform="translate(31.9,60.6) rotate(-90)">Relapse-free survival (%)</text>
<text x="60.0" y="64.8" font-size="6.3" fill="#222" textLength="27.5" lengthAdjust="spacingAndGlyphs"><tspan font-style="italic">P</tspan> = .0098</text>
<text x="60.00" y="77.60" font-size="6.3" textLength="35.6" lengthAdjust="spacingAndGlyphs" fill="#222">HR (95% CI):</text>
<text x="60.00" y="86.00" font-size="6.3" textLength="127.5" lengthAdjust="spacingAndGlyphs" fill="#222">0.40 (0.21-0.78) using treatment as covariate</text>
<polyline points="60.3,31.5 73.0,31.5 73.0,33.2 81.0,33.6 84.5,35.5 96.0,37.2 112.2,37.8 114.5,39.2 132.3,39.2 132.3,41.6 142.7,41.6 146.1,43.6 162.3,43.6 165.7,44.8 218.3,44.8 218.3,46.2 236.5,46.2" fill="none" stroke="#64b2d6" stroke-width="1.25"/>
<polyline points="60.3,31.5 68.4,33.8 70.7,37.2 77.6,40.1 84.5,43.0 91.4,45.3 96.0,49.3 104.1,51.6 107.6,52.8 118.0,53.4 132.3,55.7 146.0,58.3 155.0,58.8 169.0,59.7 203.6,60.0 236.5,61.2" fill="none" stroke="#b8203e" stroke-width="1.15" stroke-dasharray="1.3 1.3"/>
<rect x="147.70" y="42.40" width="1.4" height="2.4" fill="#4f9fbd"/>
<rect x="150.10" y="42.40" width="1.4" height="2.4" fill="#4f9fbd"/>
<rect x="161.60" y="42.40" width="1.4" height="2.4" fill="#4f9fbd"/>
<rect x="227.10" y="45.00" width="1.4" height="2.4" fill="#4f9fbd"/>
<rect x="235.60" y="45.00" width="1.4" height="2.4" fill="#4f9fbd"/>
<polyline points="104.0,51.6 104.1,51.6 107.0,52.6" fill="none" stroke="#b0122f" stroke-width="1.6" stroke-dasharray="2.4 0.7"/>
<polyline points="146.0,58.3 155.0,58.8" fill="none" stroke="#b0122f" stroke-width="1.6" stroke-dasharray="2.4 0.7"/>
<polyline points="233.5,61.1 236.5,61.2 237.5,61.2" fill="none" stroke="#b0122f" stroke-width="1.6" stroke-dasharray="2.4 0.7"/>
<text x="239.40" y="48.00" font-size="6.3" textLength="12.5" lengthAdjust="spacingAndGlyphs" fill="#222">74%</text>
<text x="239.40" y="62.70" font-size="6.3" textLength="12.5" lengthAdjust="spacingAndGlyphs" fill="#222">49%</text>
<text x="53.80" y="126.20" font-size="6.5" textLength="103.5" lengthAdjust="spacingAndGlyphs" fill="#222">Weighted number of patients at risk</text>
<text x="50.40" y="137.00" font-size="6.3" text-anchor="end" textLength="34.0" lengthAdjust="spacingAndGlyphs" fill="#222">Abatacept+</text>
<text x="50.40" y="144.60" font-size="6.3" text-anchor="end" textLength="27.0" lengthAdjust="spacingAndGlyphs" fill="#222">CNI/MTX</text>
<text x="60.40" y="140.70" font-size="6.3" text-anchor="middle" fill="#222">54</text>
<text x="74.90" y="140.70" font-size="6.3" text-anchor="middle" fill="#222">52</text>
<text x="89.40" y="140.70" font-size="6.3" text-anchor="middle" fill="#222">50</text>
<text x="103.91" y="140.70" font-size="6.3" text-anchor="middle" fill="#222">48</text>
<text x="118.41" y="140.70" font-size="6.3" text-anchor="middle" fill="#222">47</text>
<text x="132.91" y="140.70" font-size="6.3" text-anchor="middle" fill="#222">47</text>
<text x="147.41" y="140.70" font-size="6.3" text-anchor="middle" fill="#222">43</text>
<text x="161.91" y="140.70" font-size="6.3" text-anchor="middle" fill="#222">41</text>
<text x="176.42" y="140.70" font-size="6.3" text-anchor="middle" fill="#222">40</text>
<text x="190.92" y="140.70" font-size="6.3" text-anchor="middle" fill="#222">40</text>
<text x="205.42" y="140.70" font-size="6.3" text-anchor="middle" fill="#222">40</text>
<text x="219.92" y="140.70" font-size="6.3" text-anchor="middle" fill="#222">38</text>
<text x="236.84" y="140.70" font-size="6.3" text-anchor="middle" fill="#222">37</text>
<text x="50.40" y="155.00" font-size="6.3" text-anchor="end" textLength="27" lengthAdjust="spacingAndGlyphs" fill="#222">CNI/MTX</text>
<text x="60.40" y="155.00" font-size="6.3" text-anchor="middle" fill="#222">161</text>
<text x="74.90" y="155.00" font-size="6.3" text-anchor="middle" fill="#222">140</text>
<text x="89.40" y="155.00" font-size="6.3" text-anchor="middle" fill="#222">123</text>
<text x="103.91" y="155.00" font-size="6.3" text-anchor="middle" fill="#222">108</text>
<text x="118.41" y="155.00" font-size="6.3" text-anchor="middle" fill="#222">99</text>
<text x="132.91" y="155.00" font-size="6.3" text-anchor="middle" fill="#222">93</text>
<text x="147.41" y="155.00" font-size="6.3" text-anchor="middle" fill="#222">87</text>
<text x="161.91" y="155.00" font-size="6.3" text-anchor="middle" fill="#222">80</text>
<text x="176.42" y="155.00" font-size="6.3" text-anchor="middle" fill="#222">79</text>
<text x="190.92" y="155.00" font-size="6.3" text-anchor="middle" fill="#222">79</text>
<text x="205.42" y="155.00" font-size="6.3" text-anchor="middle" fill="#222">78</text>
<text x="219.92" y="155.00" font-size="6.3" text-anchor="middle" fill="#222">76</text>
<text x="236.84" y="155.00" font-size="6.3" text-anchor="middle" fill="#222">70</text>
</g>
<g transform="translate(261,164.7)">
<text x="13.00" y="16.20" font-size="11" font-weight="bold" fill="#111">E</text>
<line x1="83.0" y1="22.8" x2="89.8" y2="22.8" stroke="#64b2d6" stroke-width="1.1"/>
<text x="91.50" y="24.50" font-size="6.5" textLength="61.3" lengthAdjust="spacingAndGlyphs" fill="#222">Abatacept+CNI/MTX</text>
<line x1="161.5" y1="22.8" x2="168.3" y2="22.8" stroke="#b8203e" stroke-width="1.0" stroke-opacity="0.75" stroke-dasharray="1.3 1.2"/>
<text x="170.80" y="24.50" font-size="6.5" textLength="43.8" lengthAdjust="spacingAndGlyphs" fill="#222">CNI/MTX+ATG</text>
<line x1="53.4" y1="29.6" x2="53.4" y2="93.0" stroke="#1e1e1e" stroke-width="1.3"/>
<line x1="50.7" y1="90.40" x2="53.4" y2="90.40" stroke="#1e1e1e" stroke-width="1"/>
<text x="47.40" y="92.60" font-size="6.4" text-anchor="end" textLength="3.1" lengthAdjust="spacingAndGlyphs" fill="#222">0</text>
<line x1="50.7" y1="84.50" x2="53.4" y2="84.50" stroke="#1e1e1e" stroke-width="1"/>
<text x="47.40" y="86.70" font-size="6.4" text-anchor="end" textLength="6.2" lengthAdjust="spacingAndGlyphs" fill="#222">10</text>
<line x1="50.7" y1="78.60" x2="53.4" y2="78.60" stroke="#1e1e1e" stroke-width="1"/>
<text x="47.40" y="80.80" font-size="6.4" text-anchor="end" textLength="6.2" lengthAdjust="spacingAndGlyphs" fill="#222">20</text>
<line x1="50.7" y1="72.70" x2="53.4" y2="72.70" stroke="#1e1e1e" stroke-width="1"/>
<text x="47.40" y="74.90" font-size="6.4" text-anchor="end" textLength="6.2" lengthAdjust="spacingAndGlyphs" fill="#222">30</text>
<line x1="50.7" y1="66.80" x2="53.4" y2="66.80" stroke="#1e1e1e" stroke-width="1"/>
<text x="47.40" y="69.00" font-size="6.4" text-anchor="end" textLength="6.2" lengthAdjust="spacingAndGlyphs" fill="#222">40</text>
<line x1="50.7" y1="60.90" x2="53.4" y2="60.90" stroke="#1e1e1e" stroke-width="1"/>
<text x="47.40" y="63.10" font-size="6.4" text-anchor="end" textLength="6.2" lengthAdjust="spacingAndGlyphs" fill="#222">50</text>
<line x1="50.7" y1="55.00" x2="53.4" y2="55.00" stroke="#1e1e1e" stroke-width="1"/>
<text x="47.40" y="57.20" font-size="6.4" text-anchor="end" textLength="6.2" lengthAdjust="spacingAndGlyphs" fill="#222">60</text>
<line x1="50.7" y1="49.10" x2="53.4" y2="49.10" stroke="#1e1e1e" stroke-width="1"/>
<text x="47.40" y="51.30" font-size="6.4" text-anchor="end" textLength="6.2" lengthAdjust="spacingAndGlyphs" fill="#222">70</text>
<line x1="50.7" y1="43.20" x2="53.4" y2="43.20" stroke="#1e1e1e" stroke-width="1"/>
<text x="47.40" y="45.40" font-size="6.4" text-anchor="end" textLength="6.2" lengthAdjust="spacingAndGlyphs" fill="#222">80</text>
<line x1="50.7" y1="37.30" x2="53.4" y2="37.30" stroke="#1e1e1e" stroke-width="1"/>
<text x="47.40" y="39.50" font-size="6.4" text-anchor="end" textLength="6.2" lengthAdjust="spacingAndGlyphs" fill="#222">90</text>
<line x1="50.7" y1="31.40" x2="53.4" y2="31.40" stroke="#1e1e1e" stroke-width="1"/>
<text x="47.40" y="33.60" font-size="6.4" text-anchor="end" textLength="9.3" lengthAdjust="spacingAndGlyphs" fill="#222">100</text>
<line x1="52.8" y1="92.9" x2="243.8" y2="92.9" stroke="#1e1e1e" stroke-width="1.6"/>
<line x1="60.40" y1="92.9" x2="60.40" y2="95.8" stroke="#1e1e1e" stroke-width="1"/>
<text x="60.40" y="104.50" font-size="7.0" text-anchor="middle" textLength="3.35" lengthAdjust="spacingAndGlyphs" fill="#222">0</text>
<line x1="74.90" y1="92.9" x2="74.90" y2="95.8" stroke="#1e1e1e" stroke-width="1"/>
<text x="74.90" y="104.50" font-size="7.0" text-anchor="middle" textLength="6.7" lengthAdjust="spacingAndGlyphs" fill="#222">60</text>
<line x1="89.40" y1="92.9" x2="89.40" y2="95.8" stroke="#1e1e1e" stroke-width="1"/>
<text x="89.40" y="104.50" font-size="7.0" text-anchor="middle" textLength="10.05" lengthAdjust="spacingAndGlyphs" fill="#222">120</text>
<line x1="103.91" y1="92.9" x2="103.91" y2="95.8" stroke="#1e1e1e" stroke-width="1"/>
<text x="103.91" y="104.50" font-size="7.0" text-anchor="middle" textLength="10.05" lengthAdjust="spacingAndGlyphs" fill="#222">180</text>
<line x1="118.41" y1="92.9" x2="118.41" y2="95.8" stroke="#1e1e1e" stroke-width="1"/>
<text x="118.41" y="104.50" font-size="7.0" text-anchor="middle" textLength="10.05" lengthAdjust="spacingAndGlyphs" fill="#222">240</text>
<line x1="132.91" y1="92.9" x2="132.91" y2="95.8" stroke="#1e1e1e" stroke-width="1"/>
<text x="132.91" y="104.50" font-size="7.0" text-anchor="middle" textLength="10.05" lengthAdjust="spacingAndGlyphs" fill="#222">300</text>
<line x1="147.41" y1="92.9" x2="147.41" y2="95.8" stroke="#1e1e1e" stroke-width="1"/>
<text x="147.41" y="104.50" font-size="7.0" text-anchor="middle" textLength="10.05" lengthAdjust="spacingAndGlyphs" fill="#222">360</text>
<line x1="161.91" y1="92.9" x2="161.91" y2="95.8" stroke="#1e1e1e" stroke-width="1"/>
<text x="161.91" y="104.50" font-size="7.0" text-anchor="middle" textLength="10.05" lengthAdjust="spacingAndGlyphs" fill="#222">420</text>
<line x1="176.42" y1="92.9" x2="176.42" y2="95.8" stroke="#1e1e1e" stroke-width="1"/>
<text x="176.42" y="104.50" font-size="7.0" text-anchor="middle" textLength="10.05" lengthAdjust="spacingAndGlyphs" fill="#222">480</text>
<line x1="190.92" y1="92.9" x2="190.92" y2="95.8" stroke="#1e1e1e" stroke-width="1"/>
<text x="190.92" y="104.50" font-size="7.0" text-anchor="middle" textLength="10.05" lengthAdjust="spacingAndGlyphs" fill="#222">540</text>
<line x1="205.42" y1="92.9" x2="205.42" y2="95.8" stroke="#1e1e1e" stroke-width="1"/>
<text x="205.42" y="104.50" font-size="7.0" text-anchor="middle" textLength="10.05" lengthAdjust="spacingAndGlyphs" fill="#222">600</text>
<line x1="219.92" y1="92.9" x2="219.92" y2="95.8" stroke="#1e1e1e" stroke-width="1"/>
<text x="219.92" y="104.50" font-size="7.0" text-anchor="middle" textLength="10.05" lengthAdjust="spacingAndGlyphs" fill="#222">660</text>
<line x1="236.84" y1="92.9" x2="236.84" y2="95.8" stroke="#1e1e1e" stroke-width="1"/>
<text x="236.84" y="104.50" font-size="7.0" text-anchor="middle" textLength="10.05" lengthAdjust="spacingAndGlyphs" fill="#222">730</text>
<text x="106.90" y="116.20" font-size="8.5" textLength="82.6" lengthAdjust="spacingAndGlyphs" fill="#222">Time since transplant (days)</text>
<text x="0" y="0" font-size="9" textLength="72.4" lengthAdjust="spacingAndGlyphs" text-anchor="middle" fill="#333" style="stroke:none" transform="translate(31.9,60.6) rotate(-90)">Relapse-free survival (%)</text>
<text x="60.0" y="64.8" font-size="6.3" fill="#222" textLength="27.5" lengthAdjust="spacingAndGlyphs"><tspan font-style="italic">P</tspan> = .0002</text>
<text x="60.00" y="77.60" font-size="6.3" textLength="35.6" lengthAdjust="spacingAndGlyphs" fill="#222">HR (95% CI):</text>
<text x="60.00" y="86.00" font-size="6.3" textLength="127.5" lengthAdjust="spacingAndGlyphs" fill="#222">0.25 (0.13-0.48) using treatment as covariate</text>
<polyline points="60.3,31.5 64.9,31.5 73.0,32.3 81.0,32.9 92.6,35.8 98.4,36.6 112.2,36.9 115.7,37.8 132.3,37.8 132.3,39.6 143.8,39.6 143.8,42.1 163.4,42.1 163.4,43.5 218.3,43.5 218.3,44.7 236.5,44.7" fill="none" stroke="#64b2d6" stroke-width="1.25"/>
<polyline points="60.3,31.5 66.0,33.5 73.0,37.5 82.2,41.6 90.3,46.2 100.7,49.6 108.7,53.1 118.0,56.0 121.9,57.2 130.0,60.2 143.8,62.0 154.2,63.0 169.0,64.1 195.0,65.8 220.9,68.4 236.5,69.6" fill="none" stroke="#b8203e" stroke-width="1.15" stroke-dasharray="1.3 1.3"/>
<rect x="147.70" y="40.90" width="1.4" height="2.4" fill="#4f9fbd"/>
<rect x="150.10" y="40.90" width="1.4" height="2.4" fill="#4f9fbd"/>
<rect x="161.60" y="40.90" width="1.4" height="2.4" fill="#4f9fbd"/>
<rect x="227.10" y="43.50" width="1.4" height="2.4" fill="#4f9fbd"/>
<rect x="235.60" y="43.50" width="1.4" height="2.4" fill="#4f9fbd"/>
<polyline points="143.8,62.0 154.2,63.0 155.4,63.1" fill="none" stroke="#b0122f" stroke-width="1.6" stroke-dasharray="2.4 0.7"/>
<polyline points="230.4,69.1 236.5,69.6 237.3,69.6" fill="none" stroke="#b0122f" stroke-width="1.6" stroke-dasharray="2.4 0.7"/>
<text x="239.40" y="46.90" font-size="6.3" textLength="12.5" lengthAdjust="spacingAndGlyphs" fill="#222">77%</text>
<text x="239.40" y="71.20" font-size="6.3" textLength="12.5" lengthAdjust="spacingAndGlyphs" fill="#222">35%</text>
<text x="53.80" y="126.20" font-size="6.5" textLength="103.5" lengthAdjust="spacingAndGlyphs" fill="#222">Weighted number of patients at risk</text>
<text x="50.40" y="137.00" font-size="6.3" text-anchor="end" textLength="34.0" lengthAdjust="spacingAndGlyphs" fill="#222">Abatacept+</text>
<text x="50.40" y="144.60" font-size="6.3" text-anchor="end" textLength="27.0" lengthAdjust="spacingAndGlyphs" fill="#222">CNI/MTX</text>
<text x="60.40" y="140.70" font-size="6.3" text-anchor="middle" fill="#222">50</text>
<text x="74.90" y="140.70" font-size="6.3" text-anchor="middle" fill="#222">49</text>
<text x="89.40" y="140.70" font-size="6.3" text-anchor="middle" fill="#222">46</text>
<text x="103.91" y="140.70" font-size="6.3" text-anchor="middle" fill="#222">45</text>
<text x="118.41" y="140.70" font-size="6.3" text-anchor="middle" fill="#222">44</text>
<text x="132.91" y="140.70" font-size="6.3" text-anchor="middle" fill="#222">44</text>
<text x="147.41" y="140.70" font-size="6.3" text-anchor="middle" fill="#222">40</text>
<text x="161.91" y="140.70" font-size="6.3" text-anchor="middle" fill="#222">39</text>
<text x="176.42" y="140.70" font-size="6.3" text-anchor="middle" fill="#222">37</text>
<text x="190.92" y="140.70" font-size="6.3" text-anchor="middle" fill="#222">37</text>
<text x="205.42" y="140.70" font-size="6.3" text-anchor="middle" fill="#222">37</text>
<text x="219.92" y="140.70" font-size="6.3" text-anchor="middle" fill="#222">36</text>
<text x="236.84" y="140.70" font-size="6.3" text-anchor="middle" fill="#222">35</text>
<text x="50.40" y="155.00" font-size="6.3" text-anchor="end" textLength="43.7" lengthAdjust="spacingAndGlyphs" fill="#222">CNI/MTX+ATG</text>
<text x="60.40" y="155.00" font-size="6.3" text-anchor="middle" fill="#222">164</text>
<text x="74.90" y="155.00" font-size="6.3" text-anchor="middle" fill="#222">144</text>
<text x="89.40" y="155.00" font-size="6.3" text-anchor="middle" fill="#222">124</text>
<text x="103.91" y="155.00" font-size="6.3" text-anchor="middle" fill="#222">108</text>
<text x="118.41" y="155.00" font-size="6.3" text-anchor="middle" fill="#222">96</text>
<text x="132.91" y="155.00" font-size="6.3" text-anchor="middle" fill="#222">81</text>
<text x="147.41" y="155.00" font-size="6.3" text-anchor="middle" fill="#222">77</text>
<text x="161.91" y="155.00" font-size="6.3" text-anchor="middle" fill="#222">71</text>
<text x="176.42" y="155.00" font-size="6.3" text-anchor="middle" fill="#222">67</text>
<text x="190.92" y="155.00" font-size="6.3" text-anchor="middle" fill="#222">63</text>
<text x="205.42" y="155.00" font-size="6.3" text-anchor="middle" fill="#222">62</text>
<text x="219.92" y="155.00" font-size="6.3" text-anchor="middle" fill="#222">57</text>
<text x="236.84" y="155.00" font-size="6.3" text-anchor="middle" fill="#222">50</text>
</g>
<g transform="translate(261,329.4)">
<text x="13.00" y="16.20" font-size="11" font-weight="bold" fill="#111">F</text>
<line x1="95.8" y1="22.8" x2="102.6" y2="22.8" stroke="#64b2d6" stroke-width="1.1"/>
<text x="105.00" y="24.50" font-size="6.5" textLength="61.2" lengthAdjust="spacingAndGlyphs" fill="#222">Abatacept+CNI/MTX</text>
<line x1="175.4" y1="22.8" x2="182.20000000000002" y2="22.8" stroke="#b8203e" stroke-width="1.0" stroke-opacity="0.75" stroke-dasharray="1.3 1.2"/>
<text x="184.70" y="24.50" font-size="6.5" textLength="17.3" lengthAdjust="spacingAndGlyphs" fill="#222">PT-Cy</text>
<line x1="53.4" y1="29.6" x2="53.4" y2="93.0" stroke="#1e1e1e" stroke-width="1.3"/>
<line x1="50.7" y1="90.40" x2="53.4" y2="90.40" stroke="#1e1e1e" stroke-width="1"/>
<text x="47.40" y="92.60" font-size="6.4" text-anchor="end" textLength="3.1" lengthAdjust="spacingAndGlyphs" fill="#222">0</text>
<line x1="50.7" y1="84.50" x2="53.4" y2="84.50" stroke="#1e1e1e" stroke-width="1"/>
<text x="47.40" y="86.70" font-size="6.4" text-anchor="end" textLength="6.2" lengthAdjust="spacingAndGlyphs" fill="#222">10</text>
<line x1="50.7" y1="78.60" x2="53.4" y2="78.60" stroke="#1e1e1e" stroke-width="1"/>
<text x="47.40" y="80.80" font-size="6.4" text-anchor="end" textLength="6.2" lengthAdjust="spacingAndGlyphs" fill="#222">20</text>
<line x1="50.7" y1="72.70" x2="53.4" y2="72.70" stroke="#1e1e1e" stroke-width="1"/>
<text x="47.40" y="74.90" font-size="6.4" text-anchor="end" textLength="6.2" lengthAdjust="spacingAndGlyphs" fill="#222">30</text>
<line x1="50.7" y1="66.80" x2="53.4" y2="66.80" stroke="#1e1e1e" stroke-width="1"/>
<text x="47.40" y="69.00" font-size="6.4" text-anchor="end" textLength="6.2" lengthAdjust="spacingAndGlyphs" fill="#222">40</text>
<line x1="50.7" y1="60.90" x2="53.4" y2="60.90" stroke="#1e1e1e" stroke-width="1"/>
<text x="47.40" y="63.10" font-size="6.4" text-anchor="end" textLength="6.2" lengthAdjust="spacingAndGlyphs" fill="#222">50</text>
<line x1="50.7" y1="55.00" x2="53.4" y2="55.00" stroke="#1e1e1e" stroke-width="1"/>
<text x="47.40" y="57.20" font-size="6.4" text-anchor="end" textLength="6.2" lengthAdjust="spacingAndGlyphs" fill="#222">60</text>
<line x1="50.7" y1="49.10" x2="53.4" y2="49.10" stroke="#1e1e1e" stroke-width="1"/>
<text x="47.40" y="51.30" font-size="6.4" text-anchor="end" textLength="6.2" lengthAdjust="spacingAndGlyphs" fill="#222">70</text>
<line x1="50.7" y1="43.20" x2="53.4" y2="43.20" stroke="#1e1e1e" stroke-width="1"/>
<text x="47.40" y="45.40" font-size="6.4" text-anchor="end" textLength="6.2" lengthAdjust="spacingAndGlyphs" fill="#222">80</text>
<line x1="50.7" y1="37.30" x2="53.4" y2="37.30" stroke="#1e1e1e" stroke-width="1"/>
<text x="47.40" y="39.50" font-size="6.4" text-anchor="end" textLength="6.2" lengthAdjust="spacingAndGlyphs" fill="#222">90</text>
<line x1="50.7" y1="31.40" x2="53.4" y2="31.40" stroke="#1e1e1e" stroke-width="1"/>
<text x="47.40" y="33.60" font-size="6.4" text-anchor="end" textLength="9.3" lengthAdjust="spacingAndGlyphs" fill="#222">100</text>
<line x1="52.8" y1="92.9" x2="243.8" y2="92.9" stroke="#1e1e1e" stroke-width="1.6"/>
<line x1="60.40" y1="92.9" x2="60.40" y2="95.8" stroke="#1e1e1e" stroke-width="1"/>
<text x="60.40" y="104.50" font-size="7.0" text-anchor="middle" textLength="3.35" lengthAdjust="spacingAndGlyphs" fill="#222">0</text>
<line x1="74.90" y1="92.9" x2="74.90" y2="95.8" stroke="#1e1e1e" stroke-width="1"/>
<text x="74.90" y="104.50" font-size="7.0" text-anchor="middle" textLength="6.7" lengthAdjust="spacingAndGlyphs" fill="#222">60</text>
<line x1="89.40" y1="92.9" x2="89.40" y2="95.8" stroke="#1e1e1e" stroke-width="1"/>
<text x="89.40" y="104.50" font-size="7.0" text-anchor="middle" textLength="10.05" lengthAdjust="spacingAndGlyphs" fill="#222">120</text>
<line x1="103.91" y1="92.9" x2="103.91" y2="95.8" stroke="#1e1e1e" stroke-width="1"/>
<text x="103.91" y="104.50" font-size="7.0" text-anchor="middle" textLength="10.05" lengthAdjust="spacingAndGlyphs" fill="#222">180</text>
<line x1="118.41" y1="92.9" x2="118.41" y2="95.8" stroke="#1e1e1e" stroke-width="1"/>
<text x="118.41" y="104.50" font-size="7.0" text-anchor="middle" textLength="10.05" lengthAdjust="spacingAndGlyphs" fill="#222">240</text>
<line x1="132.91" y1="92.9" x2="132.91" y2="95.8" stroke="#1e1e1e" stroke-width="1"/>
<text x="132.91" y="104.50" font-size="7.0" text-anchor="middle" textLength="10.05" lengthAdjust="spacingAndGlyphs" fill="#222">300</text>
<line x1="147.41" y1="92.9" x2="147.41" y2="95.8" stroke="#1e1e1e" stroke-width="1"/>
<text x="147.41" y="104.50" font-size="7.0" text-anchor="middle" textLength="10.05" lengthAdjust="spacingAndGlyphs" fill="#222">360</text>
<line x1="161.91" y1="92.9" x2="161.91" y2="95.8" stroke="#1e1e1e" stroke-width="1"/>
<text x="161.91" y="104.50" font-size="7.0" text-anchor="middle" textLength="10.05" lengthAdjust="spacingAndGlyphs" fill="#222">420</text>
<line x1="176.42" y1="92.9" x2="176.42" y2="95.8" stroke="#1e1e1e" stroke-width="1"/>
<text x="176.42" y="104.50" font-size="7.0" text-anchor="middle" textLength="10.05" lengthAdjust="spacingAndGlyphs" fill="#222">480</text>
<line x1="190.92" y1="92.9" x2="190.92" y2="95.8" stroke="#1e1e1e" stroke-width="1"/>
<text x="190.92" y="104.50" font-size="7.0" text-anchor="middle" textLength="10.05" lengthAdjust="spacingAndGlyphs" fill="#222">540</text>
<line x1="205.42" y1="92.9" x2="205.42" y2="95.8" stroke="#1e1e1e" stroke-width="1"/>
<text x="205.42" y="104.50" font-size="7.0" text-anchor="middle" textLength="10.05" lengthAdjust="spacingAndGlyphs" fill="#222">600</text>
<line x1="219.92" y1="92.9" x2="219.92" y2="95.8" stroke="#1e1e1e" stroke-width="1"/>
<text x="219.92" y="104.50" font-size="7.0" text-anchor="middle" textLength="10.05" lengthAdjust="spacingAndGlyphs" fill="#222">660</text>
<line x1="236.84" y1="92.9" x2="236.84" y2="95.8" stroke="#1e1e1e" stroke-width="1"/>
<text x="236.84" y="104.50" font-size="7.0" text-anchor="middle" textLength="10.05" lengthAdjust="spacingAndGlyphs" fill="#222">730</text>
<text x="106.90" y="116.20" font-size="8.5" textLength="82.6" lengthAdjust="spacingAndGlyphs" fill="#222">Time since transplant (days)</text>
<text x="0" y="0" font-size="9" textLength="72.4" lengthAdjust="spacingAndGlyphs" text-anchor="middle" fill="#333" style="stroke:none" transform="translate(31.9,60.6) rotate(-90)">Relapse-free survival (%)</text>
<text x="60.0" y="64.8" font-size="6.3" fill="#222" textLength="27.5" lengthAdjust="spacingAndGlyphs"><tspan font-style="italic">P</tspan> = .1058</text>
<text x="60.00" y="77.60" font-size="6.3" textLength="35.6" lengthAdjust="spacingAndGlyphs" fill="#222">HR (95% CI):</text>
<text x="60.00" y="86.00" font-size="6.3" textLength="127.5" lengthAdjust="spacingAndGlyphs" fill="#222">0.54 (0.26-1.12) using treatment as covariate</text>
<polyline points="60.3,30.9 73.0,31.5 73.0,33.2 81.0,33.6 85.7,35.5 96.0,36.7 113.4,37.2 118.0,38.3 132.5,38.3 132.5,40.4 143.6,40.4 143.6,44.8 163.4,44.8 163.4,45.5 218.3,45.5 218.3,47.4 236.5,47.4" fill="none" stroke="#64b2d6" stroke-width="1.25"/>
<polyline points="60.3,30.9 73.0,33.2 83.6,40.1 92.6,41.8 99.0,43.7 106.7,47.5 128.2,48.3 134.0,50.5 140.5,52.9 146.7,53.6 159.0,54.4 175.0,54.6 195.0,54.9 236.5,56.0" fill="none" stroke="#b8203e" stroke-width="1.15" stroke-dasharray="1.3 1.3"/>
<rect x="147.70" y="43.60" width="1.4" height="2.4" fill="#4f9fbd"/>
<rect x="150.10" y="43.60" width="1.4" height="2.4" fill="#4f9fbd"/>
<rect x="161.60" y="43.60" width="1.4" height="2.4" fill="#4f9fbd"/>
<rect x="227.10" y="46.20" width="1.4" height="2.4" fill="#4f9fbd"/>
<rect x="235.60" y="46.20" width="1.4" height="2.4" fill="#4f9fbd"/>
<polyline points="83.5,40.0 83.6,40.1 86.5,40.6" fill="none" stroke="#b0122f" stroke-width="1.6" stroke-dasharray="2.4 0.7"/>
<polyline points="103.5,45.9 106.7,47.5 108.5,47.6" fill="none" stroke="#b0122f" stroke-width="1.6" stroke-dasharray="2.4 0.7"/>
<polyline points="145.5,53.5 146.7,53.6 157.0,54.3" fill="none" stroke="#b0122f" stroke-width="1.6" stroke-dasharray="2.4 0.7"/>
<polyline points="229.3,55.8 236.5,56.0 237.0,56.0" fill="none" stroke="#b0122f" stroke-width="1.6" stroke-dasharray="2.4 0.7"/>
<text x="239.40" y="49.00" font-size="6.3" textLength="12.5" lengthAdjust="spacingAndGlyphs" fill="#222">72%</text>
<text x="239.40" y="58.50" font-size="6.3" textLength="12.5" lengthAdjust="spacingAndGlyphs" fill="#222">56%</text>
<text x="53.80" y="126.20" font-size="6.5" textLength="103.5" lengthAdjust="spacingAndGlyphs" fill="#222">Weighted number of patients at risk</text>
<text x="50.40" y="137.00" font-size="6.3" text-anchor="end" textLength="34.0" lengthAdjust="spacingAndGlyphs" fill="#222">Abatacept+</text>
<text x="50.40" y="144.60" font-size="6.3" text-anchor="end" textLength="27.0" lengthAdjust="spacingAndGlyphs" fill="#222">CNI/MTX</text>
<text x="60.40" y="140.70" font-size="6.3" text-anchor="middle" fill="#222">63</text>
<text x="74.90" y="140.70" font-size="6.3" text-anchor="middle" fill="#222">60</text>
<text x="89.40" y="140.70" font-size="6.3" text-anchor="middle" fill="#222">57</text>
<text x="103.91" y="140.70" font-size="6.3" text-anchor="middle" fill="#222">56</text>
<text x="118.41" y="140.70" font-size="6.3" text-anchor="middle" fill="#222">55</text>
<text x="132.91" y="140.70" font-size="6.3" text-anchor="middle" fill="#222">55</text>
<text x="147.41" y="140.70" font-size="6.3" text-anchor="middle" fill="#222">48</text>
<text x="161.91" y="140.70" font-size="6.3" text-anchor="middle" fill="#222">44</text>
<text x="176.42" y="140.70" font-size="6.3" text-anchor="middle" fill="#222">42</text>
<text x="190.92" y="140.70" font-size="6.3" text-anchor="middle" fill="#222">42</text>
<text x="205.42" y="140.70" font-size="6.3" text-anchor="middle" fill="#222">42</text>
<text x="219.92" y="140.70" font-size="6.3" text-anchor="middle" fill="#222">40</text>
<text x="236.84" y="140.70" font-size="6.3" text-anchor="middle" fill="#222">36</text>
<text x="50.40" y="155.00" font-size="6.3" text-anchor="end" textLength="17.3" lengthAdjust="spacingAndGlyphs" fill="#222">PT-Cy</text>
<text x="60.40" y="155.00" font-size="6.3" text-anchor="middle" fill="#222">158</text>
<text x="74.90" y="155.00" font-size="6.3" text-anchor="middle" fill="#222">148</text>
<text x="89.40" y="155.00" font-size="6.3" text-anchor="middle" fill="#222">130</text>
<text x="103.91" y="155.00" font-size="6.3" text-anchor="middle" fill="#222">119</text>
<text x="118.41" y="155.00" font-size="6.3" text-anchor="middle" fill="#222">108</text>
<text x="132.91" y="155.00" font-size="6.3" text-anchor="middle" fill="#222">105</text>
<text x="147.41" y="155.00" font-size="6.3" text-anchor="middle" fill="#222">89</text>
<text x="161.91" y="155.00" font-size="6.3" text-anchor="middle" fill="#222">65</text>
<text x="176.42" y="155.00" font-size="6.3" text-anchor="middle" fill="#222">64</text>
<text x="190.92" y="155.00" font-size="6.3" text-anchor="middle" fill="#222">62</text>
<text x="205.42" y="155.00" font-size="6.3" text-anchor="middle" fill="#222">60</text>
<text x="219.92" y="155.00" font-size="6.3" text-anchor="middle" fill="#222">60</text>
<text x="236.84" y="155.00" font-size="6.3" text-anchor="middle" fill="#222">44</text>
</g>
<rect x="0.5" y="0.5" width="519" height="491" fill="none" stroke="#555" stroke-width="1"/>
</svg>
</body></html>
